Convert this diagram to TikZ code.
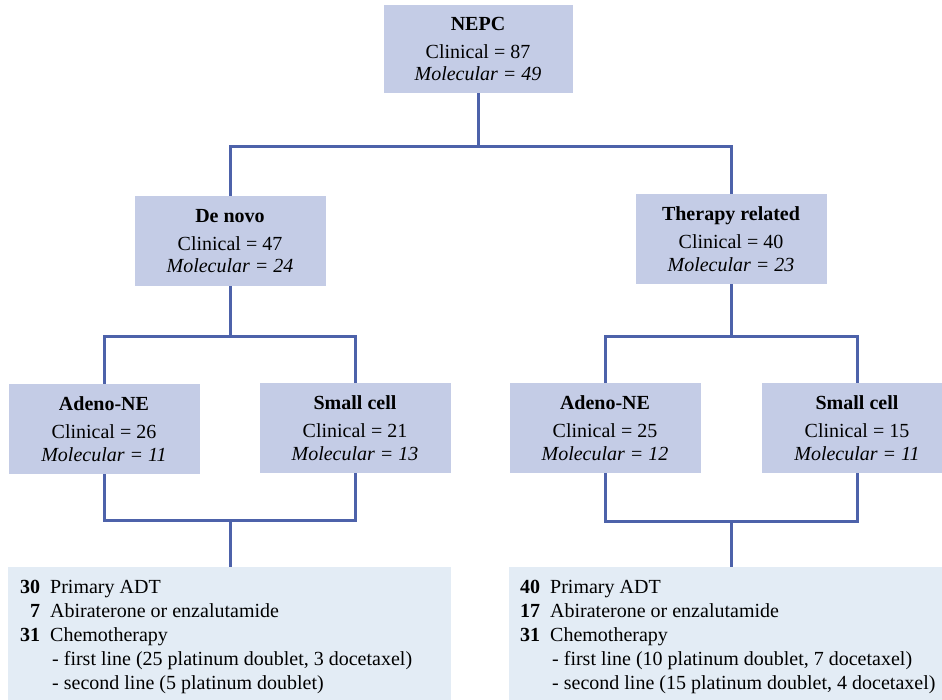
\documentclass[tikz,border=0pt]{standalone}
\usepackage{fontspec}
\setmainfont{Liberation Serif}
\definecolor{boxfill}{HTML}{C4CCE6}
\definecolor{listfill}{HTML}{E3ECF5}
\definecolor{linkblue}{HTML}{4D62AA}
\tikzset{
  catbox/.style={fill=boxfill, minimum width=191pt, minimum height=90pt, align=center, inner sep=0pt, font=\fontsize{20}{22.5}\selectfont},
  listbox/.style={fill=listfill, anchor=north west, inner sep=0pt},
  listtext/.style={anchor=north west, inner sep=0pt, font=\fontsize{20}{24}\selectfont},
  link/.style={draw=linkblue, line width=3pt},
}
\newcommand{\grouptext}[3]{\textbf{#1}\\[5.5pt]Clinical = #2\\\textit{Molecular = #3}}
\begin{document}
\begin{tikzpicture}[x=1pt,y=-1pt]
        \useasboundingbox (0,0) rectangle (942,699);
        \clip (0,0) rectangle (942,699);
        % Gesamtkollektiv
        \node[catbox, minimum width=189pt, minimum height=88pt] (nepc) at (478,49) {\grouptext{NEPC}{87}{49}};
        % erste Ebene
        \node[catbox] (denovo) at (230,241) {\grouptext{De novo}{47}{24}};
        \node[catbox] (therapy) at (731,239) {\grouptext{Therapy related}{40}{23}};
        % zweite Ebene
        \node[catbox] (adenoL) at (104,429) {\grouptext{Adeno-NE}{26}{11}};
        \node[catbox] (smallL) at (355,428) {\grouptext{Small cell}{21}{13}};
        \node[catbox] (adenoR) at (605,428) {\grouptext{Adeno-NE}{25}{12}};
        \node[catbox] (smallR) at (857,428) {\grouptext{Small cell}{15}{11}};
        % Therapielisten
        \node[listbox, minimum width=443pt, minimum height=140pt] (listL) at (8,567) {};
        \node[listbox, minimum width=445pt, minimum height=140pt] (listR) at (509,567) {};
        \node[listtext] (itemsL) at (20,576) {\begin{tabular}{@{}r@{\hspace{10pt}}l@{}}
          \textbf{30} & Primary ADT\\
          \textbf{7} & Abiraterone or enzalutamide\\
          \textbf{31} & Chemotherapy\\
          & \hspace{2pt}- first line (25 platinum doublet, 3 docetaxel)\\
          & \hspace{2pt}- second line (5 platinum doublet)
        \end{tabular}};
        \node[listtext] (itemsR) at (520,576) {\begin{tabular}{@{}r@{\hspace{10pt}}l@{}}
          \textbf{40} & Primary ADT\\
          \textbf{17} & Abiraterone or enzalutamide\\
          \textbf{31} & Chemotherapy\\
          & \hspace{2pt}- first line (10 platinum doublet, 7 docetaxel)\\
          & \hspace{2pt}- second line (15 platinum doublet, 4 docetaxel)
        \end{tabular}};
        % Verzweigungspunkte
        \coordinate (top) at (478,146);
        \coordinate (midL) at (230,336);
        \coordinate (midR) at (731,336);
        \coordinate (lowL) at (230,520);
        \coordinate (lowR) at (731,521);
        % Verbindungen
        \draw[link] (nepc.south) -- (top);
        \draw[link] (denovo.north) |- (top) -| (therapy.north);
        \draw[link] (denovo.south) -- (midL);
        \draw[link] (adenoL.north) |- (midL) -| (smallL.north);
        \draw[link] (therapy.south) -- (midR);
        \draw[link] (adenoR.north) |- (midR) -| (smallR.north);
        \draw[link] (adenoL.south) |- (lowL) -| (smallL.south);
        \draw[link] (lowL) -- (lowL |- listL.north);
        \draw[link] (adenoR.south) |- (lowR) -| (smallR.south);
        \draw[link] (lowR) -- (lowR |- listR.north);
\end{tikzpicture}
\end{document}
